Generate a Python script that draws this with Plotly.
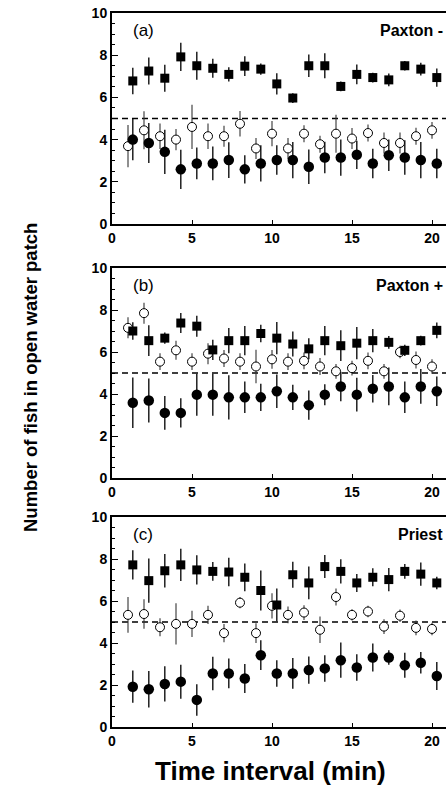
import plotly.graph_objects as go
from plotly.subplots import make_subplots

intervals = list(range(1, 21))
panel_letters = ["(a)", "(b)", "(c)"]
panel_names = ["Paxton -", "Paxton +", "Priest"]
y_ticks = [0, 2, 4, 6, 8, 10]
x_ticks = [0, 5, 10, 15, 20]

# Panel (a) Paxton -
a_sq = [6.78, 7.25, 6.91, 7.92, 7.5, 7.38, 7.09, 7.48, 7.34, 6.64, 5.97, 7.5, 7.5, 6.52, 7.09, 6.94, 6.83, 7.5, 7.34, 6.94]
a_sq_err = [0.63, 0.64, 0.64, 0.67, 0.66, 0.45, 0.34, 0.47, 0.27, 0.5, 0.23, 0.53, 0.59, 0.23, 0.47, 0.23, 0.3, 0.23, 0.3, 0.43]
a_open = [3.69, 4.44, 4.16, 4.0, 4.6, 4.16, 4.16, 4.75, 3.58, 4.28, 3.58, 4.28, 3.78, 4.28, 4.05, 4.31, 3.84, 3.84, 4.16, 4.44]
a_open_err = [1.0, 0.9, 0.6, 0.5, 1.05, 0.6, 0.5, 0.6, 0.5, 0.6, 0.5, 0.4, 0.4, 0.9, 0.5, 0.4, 0.5, 0.5, 0.4, 0.4]
a_fill = [4.0, 3.84, 3.42, 2.59, 2.87, 2.87, 3.03, 2.59, 2.87, 3.03, 3.03, 2.71, 3.15, 3.15, 3.28, 2.87, 3.26, 3.15, 3.03, 2.87]
a_fill_err = [0.98, 0.95, 1.05, 0.93, 0.75, 0.8, 0.85, 0.67, 0.86, 0.7, 0.86, 0.82, 0.75, 0.86, 0.67, 0.7, 0.75, 0.82, 0.86, 0.7]

# Panel (b) Paxton +
b_sq = [7.0, 6.54, 6.66, 7.38, 7.23, 6.1, 6.54, 6.54, 6.88, 6.66, 6.38, 6.15, 6.54, 6.3, 6.42, 6.54, 6.46, 6.08, 6.54, 7.03]
b_sq_err = [0.42, 0.73, 0.27, 0.48, 0.5, 0.48, 0.6, 0.7, 0.42, 0.77, 0.6, 0.5, 0.7, 0.73, 0.77, 0.55, 0.3, 0.27, 0.23, 0.38]
b_open = [7.15, 7.85, 5.54, 6.08, 5.54, 5.92, 5.69, 5.54, 5.31, 5.65, 5.54, 5.58, 5.31, 5.08, 5.23, 5.58, 5.08, 6.0, 5.62, 5.31]
b_open_err = [0.5, 0.5, 0.4, 0.45, 0.4, 0.5, 0.4, 0.4, 0.8, 0.45, 0.4, 0.4, 0.4, 0.35, 0.35, 0.4, 0.35, 0.3, 0.4, 0.35]
b_fill = [3.58, 3.69, 3.1, 3.1, 3.97, 3.97, 3.84, 3.84, 3.84, 4.13, 3.84, 3.47, 3.97, 4.36, 3.97, 4.25, 4.36, 3.84, 4.36, 4.13]
b_fill_err = [1.2, 1.05, 0.8, 0.7, 1.0, 1.0, 1.05, 0.75, 0.65, 0.8, 0.6, 0.7, 0.5, 0.7, 0.8, 0.65, 0.9, 0.75, 0.83, 0.7]

# Panel (c) Priest
c_sq = [7.72, 6.97, 7.44, 7.72, 7.48, 7.41, 7.38, 7.13, 6.5, 5.81, 7.25, 6.86, 7.64, 7.41, 6.86, 7.13, 7.02, 7.41, 7.28, 6.86]
c_sq_err = [0.7, 1.05, 0.8, 0.77, 0.7, 0.45, 0.68, 0.66, 0.95, 0.78, 0.62, 0.78, 0.55, 0.58, 0.43, 0.43, 0.55, 0.35, 0.55, 0.3]
c_open = [5.34, 5.38, 4.75, 4.91, 4.91, 5.34, 4.47, 5.92, 4.47, 5.77, 5.34, 5.45, 4.63, 6.19, 5.34, 5.5, 4.78, 5.3, 4.72, 4.67]
c_open_err = [0.85, 0.7, 0.43, 0.98, 0.63, 0.43, 0.43, 0.27, 0.47, 0.6, 0.4, 0.35, 0.63, 0.4, 0.27, 0.27, 0.35, 0.3, 0.35, 0.3]
c_fill = [1.92, 1.8, 2.05, 2.16, 1.29, 2.55, 2.55, 2.31, 3.42, 2.55, 2.55, 2.71, 2.79, 3.18, 2.83, 3.31, 3.31, 2.94, 3.06, 2.43]
c_fill_err = [0.77, 0.87, 0.84, 0.81, 0.75, 0.8, 0.71, 0.69, 0.71, 0.63, 0.73, 0.65, 0.63, 0.84, 0.63, 0.67, 0.35, 0.6, 0.51, 0.67]

panels = [
    (a_sq, a_sq_err, a_open, a_open_err, a_fill, a_fill_err),
    (b_sq, b_sq_err, b_open, b_open_err, b_fill, b_fill_err),
    (c_sq, c_sq_err, c_open, c_open_err, c_fill, c_fill_err),
]

W, H = 446, 787
top_px, bot_px = 13, 727
panel_px = [(13, 224), (268, 478), (517, 727)]
ph = bot_px - top_px
FONT = "Liberation Sans, Arial, Helvetica, sans-serif"

fig = make_subplots(rows=3, cols=1)
offset = 0.3
x_shift = [i + offset for i in intervals]
errcol = "#333333"

for r, (sq, sqe, op, ope, fi, fie) in enumerate(panels, start=1):
    fig.add_trace(go.Scatter(
        x=intervals, y=op, mode="markers",
        error_y=dict(type="data", array=ope, color=errcol, thickness=1.1, width=0),
        marker=dict(symbol="circle", size=9, color="white", line=dict(color="black", width=1)),
        showlegend=False, hoverinfo="skip"), row=r, col=1)
    fig.add_trace(go.Scatter(
        x=x_shift, y=fi, mode="markers",
        error_y=dict(type="data", array=fie, color="#111111", thickness=1.4, width=0),
        marker=dict(symbol="circle", size=10.5, color="black"),
        showlegend=False, hoverinfo="skip"), row=r, col=1)
    fig.add_trace(go.Scatter(
        x=x_shift, y=sq, mode="markers",
        error_y=dict(type="data", array=sqe, color="#111111", thickness=1.4, width=0),
        marker=dict(symbol="square", size=9, color="black"),
        showlegend=False, hoverinfo="skip"), row=r, col=1)

tickfont = dict(family=FONT, size=14, color="black")
for r in range(1, 4):
    t, b = panel_px[r - 1]
    dom = [(bot_px - b) / ph, (bot_px - t) / ph]
    xa = "xaxis" if r == 1 else f"xaxis{r}"
    ya = "yaxis" if r == 1 else f"yaxis{r}"
    fig.layout[ya].update(
        domain=dom, range=[0, 10], tickvals=y_ticks,
        ticktext=[f"<b>{v}</b>" for v in y_ticks],
        ticks="inside", ticklen=6, tickwidth=1.2, tickcolor="black",
        minor=dict(dtick=0.5, ticks="inside", ticklen=3, tickcolor="black", showgrid=False),
        showline=True, linecolor="black", linewidth=2, mirror=False,
        showgrid=False, zeroline=False, tickfont=tickfont)
    fig.layout[xa].update(
        range=[0, (W - 112) / 16.0], tickvals=x_ticks,
        ticktext=[f"<b>{v}</b>" for v in x_ticks],
        ticks="inside", ticklen=4, tickwidth=1.2, tickcolor="black",
        showline=True, linecolor="black", linewidth=2, mirror=True,
        showgrid=False, zeroline=False, tickfont=tickfont)
    xr = "x" if r == 1 else f"x{r}"
    yr = "y" if r == 1 else f"y{r}"
    fig.add_shape(type="line", xref=f"{xr} domain", yref=yr, x0=0, x1=1, y0=5, y1=5,
                  line=dict(color="black", width=1.6, dash="6px,4px"), layer="below")
    fig.add_annotation(xref=f"{xr} domain", yref=yr, x=0.058, y=9.15, text=panel_letters[r - 1],
                       showarrow=False, xanchor="left", yanchor="middle",
                       font=dict(family=FONT, size=17, color="black"))
    fig.add_annotation(xref=f"{xr} domain", yref=yr, x=0.997, y=9.15, text=f"<b>{panel_names[r - 1]}</b>",
                       showarrow=False, xanchor="right", yanchor="middle",
                       font=dict(family=FONT, size=16, color="black"))

fig.add_annotation(xref="paper", yref="paper", x=(270 - 112) / (W - 112), y=(bot_px - 771) / ph,
                   text="<b>Time interval (min)</b>", showarrow=False, xanchor="center", yanchor="middle",
                   font=dict(family=FONT, size=26, color="black"))
fig.add_annotation(xref="paper", yref="paper", x=(30 - 112) / (W - 112), y=(bot_px - 378) / ph,
                   text="<b>Number of fish in open water patch</b>", showarrow=False, textangle=-90,
                   xanchor="center", yanchor="middle",
                   font=dict(family=FONT, size=18.5, color="black"))

fig.update_layout(
    width=W, height=H,
    margin=dict(l=112, r=0, t=top_px, b=H - bot_px),
    paper_bgcolor="white", plot_bgcolor="white",
    showlegend=False,
)

fig.write_html("out.html", config={"displayModeBar": False},
               post_script="document.body.style.margin='0px';document.body.style.overflow='hidden';")
